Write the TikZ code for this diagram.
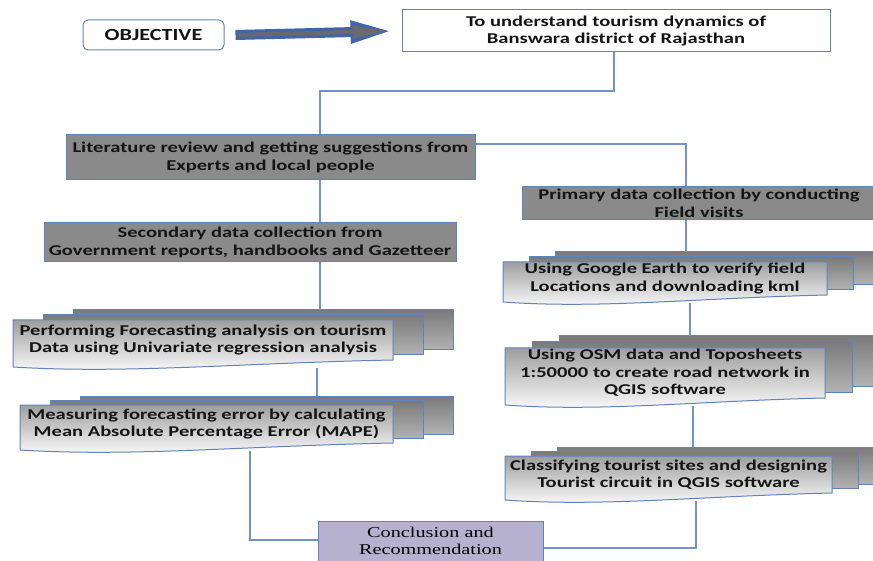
\documentclass[tikz,border=0pt]{standalone}
\usepackage{fontspec}
\setmainfont{Carlito}[FakeStretch=1.37]
\newfontfamily\objfont{Carlito}[FakeStretch=1.3]
\newfontfamily\conclfont{Liberation Serif}[FakeStretch=1.35]
\usetikzlibrary{arrows.meta}
\definecolor{bord}{RGB}{95,130,192}
\definecolor{conn}{RGB}{115,148,200}
\definecolor{boxgray}{RGB}{138,138,138}
\definecolor{conclfill}{RGB}{182,177,206}
\definecolor{arrowblue}{RGB}{62,102,168}
\definecolor{arrowgray}{RGB}{105,105,110}
\tikzset{
  txt/.style={font=\bfseries\fontsize{15}{17.5}\selectfont, align=center, text=black!92},
  plainbox/.style={txt, draw=bord, line width=1pt, fill=white, inner sep=0pt},
  graybox/.style={plainbox, fill=boxgray},
  conclbox/.style={draw=bord, line width=1pt, fill=conclfill, inner sep=0pt, align=center,
    font=\conclfont\fontsize{15}{17}\selectfont},
  backdoc/.style={draw=bord, line width=1pt, top color=black!52, bottom color=black!30},
  frontdoc/.style={draw=bord, line width=1pt, top color=black!38, bottom color=white},
  doctext/.style={txt, inner sep=0pt},
  link/.style={draw=conn, line width=1.3pt},
}
\newcommand\docstack[8]{%
  \path[backdoc] ({#2+2*#6},{#3-2*#7}) rectangle ({#4+2*#6},{#5-2*#7});
  \path[backdoc] ({#2+#6},{#3-#7}) rectangle ({#4+#6},{#5-#7});
  \path[frontdoc] (#2,#3) -- (#4,#3) -- (#4,#5)
     .. controls ({#2+0.6*(#4-#2)},{#5+3}) and ({#2+0.3*(#4-#2)},{#5+14}) .. (#2,{#5+7}) -- cycle;
  \node[doctext] (#1) at ({(#2+#4)/2},{(#3+#5)/2}) {#8};
  \coordinate (#1-t) at ({(#2+#4)/2},{#3-2*#7});
  \coordinate (#1-b) at ({(#2+#4)/2},{#5+8});
}
\begin{document}
\begin{tikzpicture}[x=1pt,y=-1pt]
\useasboundingbox (0,0) rectangle (873,561);
\clip (0,0) rectangle (873,561);

% top row
\node[draw=bord, line width=1pt, rounded corners=5pt, minimum width=141pt, minimum height=30pt,
      font=\objfont\bfseries\fontsize{17}{20}\selectfont, text=black!92] (objective) at (153.5,35) {OBJECTIVE};
\node[plainbox, minimum width=428pt, minimum height=42pt] (target) at (616,31)
  {To understand tourism dynamics of\\Banswara district of Rajasthan};
\draw[arrowblue, line width=10pt, -{Triangle[length=44pt,width=20pt]}]
  ([xshift=11pt]objective.east) -- ([xshift=-7pt]target.west);
\draw[arrowgray, line width=4pt, -{Triangle[length=36pt,width=12pt]}]
  ([xshift=14pt]objective.east) -- ([xshift=-13pt]target.west);

% left column
\node[graybox, minimum width=409pt, minimum height=45pt] (lit) at (270.5,157.5)
  {Literature review and getting suggestions from\\Experts and local people};
\node[graybox, minimum width=412pt, minimum height=39pt] (sec) at (250,242.5)
  {Secondary data collection from\\Government reports, handbooks and Gazetteer};
\docstack{perf}{13}{320}{393}{360}{30}{5}{Performing Forecasting analysis on tourism\\Data using Univariate regression analysis}
\docstack{meas}{20}{405}{393}{443}{30}{4.5}{Measuring forecasting error by calculating\\Mean Absolute Percentage Error (MAPE)}

% right column
\node[graybox, minimum width=354pt, minimum height=33pt] (prim) at (699,203.5)
  {Primary data collection by conducting\\Field visits};
\docstack{goog}{503}{262}{827}{295}{26}{5}{Using Google Earth to verify field\\Locations and downloading kml}
\docstack{osm}{505}{348}{825}{398}{27}{6}{Using OSM data and Toposheets\\1:50000 to create road network in\\QGIS software}
\docstack{cls}{505}{456}{832}{493}{26}{4.5}{Classifying tourist sites and designing\\Tourist circuit in QGIS software}

% conclusion
\node[conclbox, minimum width=225pt, minimum height=40pt] (concl) at (430.5,541)
  {Conclusion and\\Recommendation};

% junction coordinates
\coordinate (jA) at (320,91);
\coordinate (jB) at (317,0);
\coordinate (jC) at (250,540);
\coordinate (jD) at (686,144);
\coordinate (jE) at (690,0);
\coordinate (jF) at (693,0);
\coordinate (jG) at (696,548);

% connectors
\draw[link] (target.south -| 614,0) |- (jA) -- (jA |- lit.north);
\draw[link] (jA |- lit.south) -- (jA |- sec.north);
\draw[link] (jA |- sec.south) -- (jA |- perf-t);
\draw[link] (jB |- perf-b) -- (jB |- meas-t);
\draw[link] (jC |- meas-b) -- (jC) -- (jC -| concl.west);
\draw[link] (lit.east |- jD) -- (jD) -- (jD |- prim.north);
\draw[link] (jD |- prim.south) -- (jD |- goog-t);
\draw[link] (jE |- goog-b) -- (jE |- osm-t);
\draw[link] (jF |- osm-b) -- (jF |- cls-t);
\draw[link] (jG |- cls-b) -- (jG) -- (jG -| concl.east);
\end{tikzpicture}
\end{document}
